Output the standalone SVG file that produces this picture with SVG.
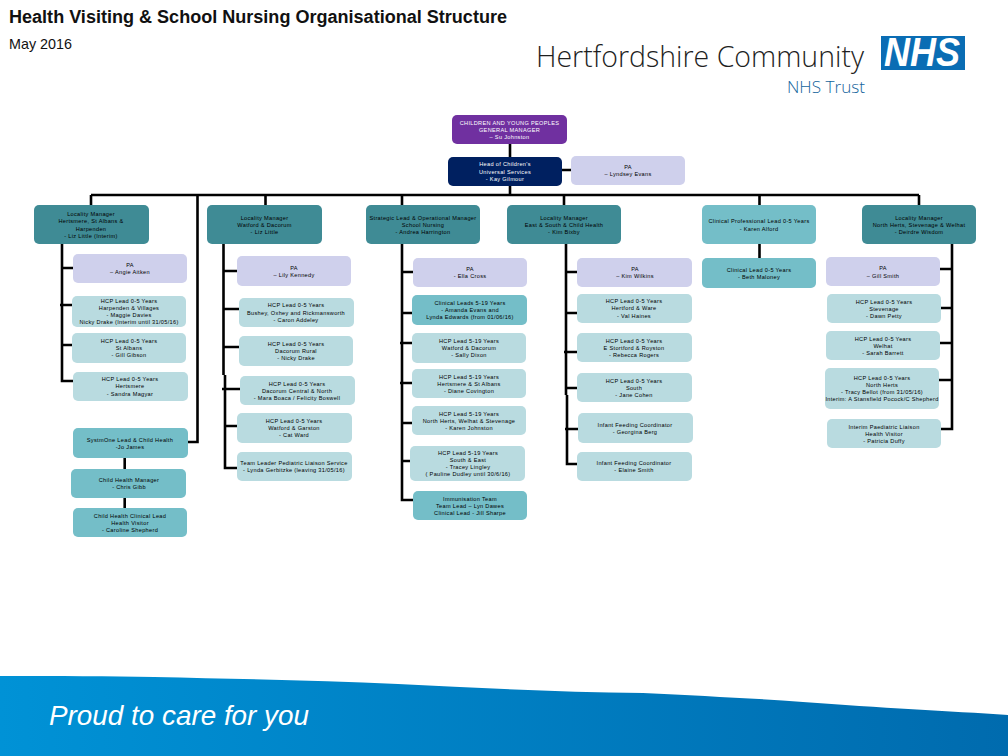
<svg xmlns="http://www.w3.org/2000/svg" width="1008" height="756" viewBox="0 0 1008 756">
<style>
text{font-family:"Liberation Sans",Arial,sans-serif}
.n text{font-size:5.6px;letter-spacing:.32px;text-anchor:middle;fill:#000}
.n rect{rx:5px;ry:5px}
.w text{fill:#fff}
.pu rect{fill:#7030a0}.nv rect{fill:#002060}.dk rect{fill:#3f8b95}.md rect{fill:#74bec8}.lt rect{fill:#b9dbe0}.pa rect{fill:#cfd0ec}
#connectors path{fill:none;stroke:#000;stroke-width:2.6}
</style>
<defs>
<linearGradient id="band" x1="0" x2="1" y1="0" y2="0"><stop offset="0" stop-color="#0092d6"/><stop offset="1" stop-color="#006bae"/></linearGradient>
</defs>
<rect width="1008" height="756" fill="#fff"/>
<text x="9" y="22.500" font-size="18" font-weight="700" fill="#111" textLength="498" lengthAdjust="spacingAndGlyphs">Health Visiting &amp; School Nursing Organisational Structure</text>
<text x="9" y="49" font-size="14.300" fill="#111" textLength="63" lengthAdjust="spacingAndGlyphs">May 2016</text>
<g id="logo">
<text x="536" y="67" font-size="28.5" fill="#1f1f1f" textLength="328" lengthAdjust="spacingAndGlyphs" style="font-family:'Open Sans',sans-serif;font-weight:300">Hertfordshire Community</text>
<text x="787" y="93" font-size="15.5" fill="#14649c" textLength="78" lengthAdjust="spacingAndGlyphs" style="font-family:'Open Sans',sans-serif;font-weight:300">NHS Trust</text>
<rect x="881" y="36" width="84" height="34" fill="#0a6db4"/>
<text x="922" y="66" font-size="40" font-weight="700" font-style="italic" fill="#fff" text-anchor="middle" textLength="76" lengthAdjust="spacingAndGlyphs">NHS</text>
</g>
<g id="connectors">
<path d="M510 144V157M510 186V195M562 170H571M91 195H919M91 195V205M265.500 195V205M402 195V205M564 195V205M759.500 195V205M919 195V205"/>
<path d="M197.500 195V442H188"/>
<path d="M62 244V381H73M62 268H73M60 305H72M62 345H72M124.700 458V469M124.700 498V508"/>
<path d="M223.500 244V375M225 375V468H237M223.500 271H237M223.500 309H239M223.500 347H239M222 389H240M225 426H237"/>
<path d="M402 244V500H413M402 272H413M402 313H412M400 343H412M400 383H412M402 423H412M402 461H410"/>
<path d="M566 244V395M567 395V464H577M566 272H577M566 313H577M564 352H577M566 388H577M565 429H578"/>
<path d="M759.500 244V258"/>
<path d="M952 244V429H941M952 269H940M952 308H941M952 343H940M952 380H939"/>
</g>
<g id="n1" class="n w pu"><rect x="452" y="115" width="115" height="29"/><text x="509.500" y="125">CHILDREN AND YOUNG PEOPLES</text><text x="509.500" y="132">GENERAL MANAGER</text><text x="509.500" y="139">– Su Johnston</text></g>
<g id="n2" class="n w nv"><rect x="448" y="157" width="114" height="29"/><text x="505" y="166">Head of Children's</text><text x="505" y="174">Universal Services</text><text x="505" y="181">- Kay Gilmour</text></g>
<g id="n3" class="n pa"><rect x="571" y="156" width="114" height="29"/><text x="628" y="169">PA</text><text x="628" y="176">– Lyndsey Evans</text></g>
<g id="n4" class="n dk"><rect x="34" y="205" width="115" height="39"/><text x="91" y="216">Locality Manager</text><text x="91" y="223">Hertsmere, St Albans &amp;</text><text x="91" y="231">Harpenden</text><text x="91" y="238">- Liz Little (Interim)</text></g>
<g id="n5" class="n dk"><rect x="207" y="205" width="115" height="39"/><text x="264.500" y="220">Locality Manager</text><text x="264.500" y="227">Watford &amp; Dacorum</text><text x="264.500" y="234">- Liz Little</text></g>
<g id="n6" class="n dk"><rect x="366" y="205" width="114" height="39"/><text x="423" y="220">Strategic Lead &amp; Operational Manager</text><text x="423" y="227">School Nursing</text><text x="423" y="234">- Andrea Harrington</text></g>
<g id="n7" class="n dk"><rect x="507" y="205" width="114" height="39"/><text x="564" y="220">Locality Manager</text><text x="564" y="227">East &amp; South &amp; Child Health</text><text x="564" y="234">- Kim Bixby</text></g>
<g id="n8" class="n md"><rect x="702" y="205" width="114" height="39"/><text x="759" y="223">Clinical Professional Lead 0-5 Years</text><text x="759" y="231">- Karen Alford</text></g>
<g id="n9" class="n dk"><rect x="862" y="205" width="114" height="39"/><text x="919" y="220">Locality Manager</text><text x="919" y="227">North Herts, Stevenage &amp; Welhat</text><text x="919" y="234">- Deirdre Wisdom</text></g>
<g id="n10" class="n pa"><rect x="73" y="254" width="114" height="29"/><text x="130" y="267">PA</text><text x="130" y="274">– Angie Aitken</text></g>
<g id="n11" class="n lt"><rect x="72" y="296" width="114" height="31"/><text x="129" y="303">HCP Lead 0-5 Years</text><text x="129" y="310">Harpenden &amp; Villages</text><text x="129" y="317">- Maggie Davies</text><text x="129" y="324">Nicky Drake (Interim until 31/05/16)</text></g>
<g id="n12" class="n lt"><rect x="72" y="333" width="114" height="30"/><text x="129" y="343">HCP Lead 0-5 Years</text><text x="129" y="350">St Albans</text><text x="129" y="357">- Gill Gibson</text></g>
<g id="n13" class="n lt"><rect x="73" y="372" width="115" height="29"/><text x="130" y="381">HCP Lead 0-5 Years</text><text x="130" y="388">Hertsmere</text><text x="130" y="396">- Sandra Magyar</text></g>
<g id="n14" class="n md"><rect x="73" y="428" width="115" height="30"/><text x="130" y="442">SystmOne Lead &amp; Child Health</text><text x="130" y="449">-Jo James</text></g>
<g id="n15" class="n md"><rect x="71" y="469" width="115" height="29"/><text x="129" y="482">Child Health Manager</text><text x="129" y="489">- Chris Gibb</text></g>
<g id="n16" class="n md"><rect x="73" y="508" width="114" height="29"/><text x="130" y="518">Child Health Clinical Lead</text><text x="130" y="525">Health Visitor</text><text x="130" y="532">- Caroline Shepherd</text></g>
<g id="n17" class="n pa"><rect x="237" y="256" width="114" height="30"/><text x="294" y="270">PA</text><text x="294" y="277">– Lily Kennedy</text></g>
<g id="n18" class="n lt"><rect x="239" y="298" width="115" height="29"/><text x="296" y="307">HCP Lead 0-5 Years</text><text x="296" y="315">Bushey, Oxhey and Rickmansworth</text><text x="296" y="322">- Caron Addeley</text></g>
<g id="n19" class="n lt"><rect x="239" y="336" width="114" height="30"/><text x="296" y="346">HCP Lead 0-5 Years</text><text x="296" y="353">Dacorum Rural</text><text x="296" y="360">- Nicky Drake</text></g>
<g id="n20" class="n lt"><rect x="240" y="376" width="115" height="29"/><text x="297" y="386">HCP Lead 0-5 Years</text><text x="297" y="393">Dacorum Central &amp; North</text><text x="297" y="400">- Mara Boaca / Felicity Boswell</text></g>
<g id="n21" class="n lt"><rect x="237" y="413" width="115" height="30"/><text x="294" y="423">HCP Lead 0-5 Years</text><text x="294" y="430">Watford &amp; Garston</text><text x="294" y="437">- Cat Ward</text></g>
<g id="n22" class="n lt"><rect x="237" y="452" width="115" height="29"/><text x="294" y="465">Team Leader Pediatric Liaison Service</text><text x="294" y="472">- Lynda Gerbitzke (leaving 31/05/16)</text></g>
<g id="n23" class="n pa"><rect x="413" y="258" width="114" height="29"/><text x="470" y="271">PA</text><text x="470" y="278">- Ella Cross</text></g>
<g id="n24" class="n md"><rect x="412" y="295" width="115" height="30"/><text x="470" y="305">Clinical Leads 5-19 Years</text><text x="470" y="312">- Amanda Evans and</text><text x="470" y="319">Lynda Edwards (from 01/06/16)</text></g>
<g id="n25" class="n lt"><rect x="412" y="333" width="114" height="30"/><text x="469" y="343">HCP Lead 5-19 Years</text><text x="469" y="350">Watford &amp; Dacorum</text><text x="469" y="357">- Sally Dixon</text></g>
<g id="n26" class="n lt"><rect x="412" y="369" width="114" height="29"/><text x="469" y="379">HCP Lead 5-19 Years</text><text x="469" y="386">Hertsmere &amp; St Albans</text><text x="469" y="393">- Diane Covington</text></g>
<g id="n27" class="n lt"><rect x="412" y="406" width="114" height="29"/><text x="469" y="416">HCP Lead 5-19 Years</text><text x="469" y="423">North Herts, Welhat &amp; Stevenage</text><text x="469" y="430">- Karen Johnston</text></g>
<g id="n28" class="n lt"><rect x="410" y="446" width="115" height="35"/><text x="468" y="455">HCP Lead 5-19 Years</text><text x="468" y="462">South &amp; East</text><text x="468" y="469">- Tracey Lingley</text><text x="468" y="476">( Pauline Dudley until 30/6/16)</text></g>
<g id="n29" class="n md"><rect x="413" y="491" width="114" height="29"/><text x="470" y="501">Immunisation Team</text><text x="470" y="508">Team Lead – Lyn Dawes</text><text x="470" y="515">Clinical Lead - Jill Sharpe</text></g>
<g id="n30" class="n pa"><rect x="577" y="258" width="115" height="29"/><text x="635" y="271">PA</text><text x="635" y="278">– Kim Wilkins</text></g>
<g id="n31" class="n lt"><rect x="577" y="294" width="115" height="29"/><text x="634" y="303">HCP Lead 0-5 Years</text><text x="634" y="310">Hertford &amp; Ware</text><text x="634" y="318">- Val Haines</text></g>
<g id="n32" class="n lt"><rect x="577" y="333" width="115" height="29"/><text x="634" y="343">HCP Lead 0-5 Years</text><text x="634" y="350">E Stortford &amp; Royston</text><text x="634" y="357">- Rebecca Rogers</text></g>
<g id="n33" class="n lt"><rect x="577" y="373" width="115" height="29"/><text x="634" y="383">HCP Lead 0-5 Years</text><text x="634" y="390">South</text><text x="634" y="397">- Jane Cohen</text></g>
<g id="n34" class="n lt"><rect x="578" y="413" width="115" height="30"/><text x="635" y="427">Infant Feeding Coordinator</text><text x="635" y="434">- Georgina Berg</text></g>
<g id="n35" class="n lt"><rect x="577" y="452" width="115" height="29"/><text x="634" y="465">Infant Feeding Coordinator</text><text x="634" y="472">- Elaine Smith</text></g>
<g id="n36" class="n md"><rect x="702" y="258" width="114" height="30"/><text x="759" y="272">Clinical Lead 0-5 Years</text><text x="759" y="279">- Beth Maloney</text></g>
<g id="n37" class="n pa"><rect x="826" y="257" width="114" height="29"/><text x="883" y="270">PA</text><text x="883" y="278">– Gill Smith</text></g>
<g id="n38" class="n lt"><rect x="827" y="294" width="114" height="29"/><text x="884" y="304">HCP Lead 0-5 Years</text><text x="884" y="311">Stevenage</text><text x="884" y="318">- Dawn Petty</text></g>
<g id="n39" class="n lt"><rect x="826" y="331" width="114" height="29"/><text x="883" y="341">HCP Lead 0-5 Years</text><text x="883" y="348">Welhat</text><text x="883" y="355">- Sarah Barrett</text></g>
<g id="n40" class="n lt"><rect x="825" y="368" width="114" height="41"/><text x="882" y="380">HCP Lead 0-5 Years</text><text x="882" y="387">North Herts</text><text x="882" y="394">- Tracy Bellot (from 31/05/16)</text><text x="882" y="401">Interim: A Stansfield Pocock/C Shepherd</text></g>
<g id="n41" class="n lt"><rect x="827" y="419" width="114" height="29"/><text x="884" y="429">Interim Paediatric Liaison</text><text x="884" y="436">Health Visitor</text><text x="884" y="443">- Patricia Duffy</text></g>
<g id="footer">
<path d="M0 676C60 676 110 676 154 677C240 679 320 680 398 684C480 688 560 692 643 693C700 696 750 698 803 702C880 708 950 711 1008 715V756H0Z" fill="url(#band)"/>
<text x="49" y="725" font-size="28" font-style="italic" fill="#fff" textLength="260" lengthAdjust="spacingAndGlyphs">Proud to care for you</text>
</g>
</svg>
